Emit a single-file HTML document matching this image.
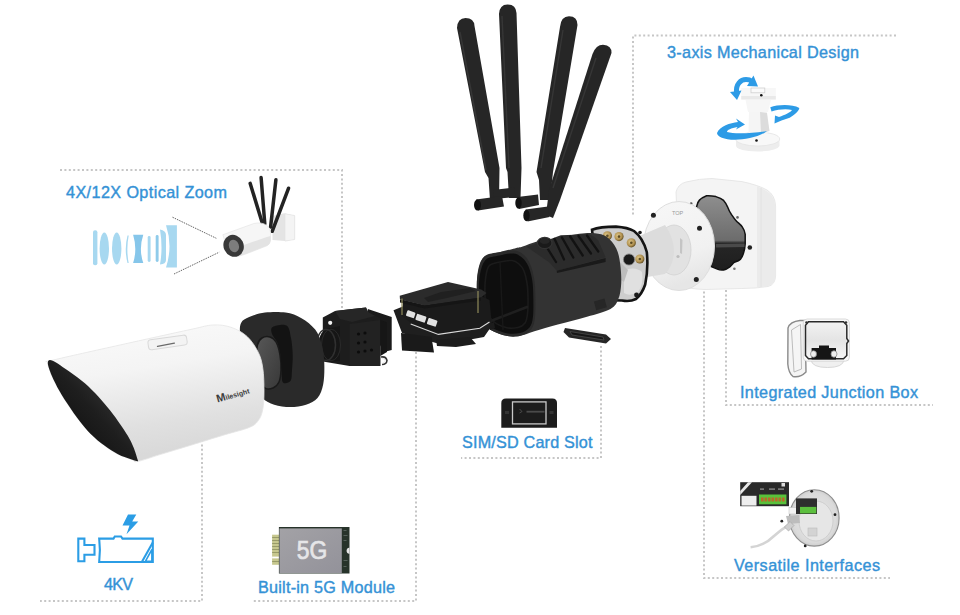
<!DOCTYPE html>
<html><head><meta charset="utf-8"><title>Camera exploded view</title>
<style>
html,body{margin:0;padding:0;background:#fff;}
body{width:960px;height:615px;overflow:hidden;}
svg{display:block;}
.lbl{font-family:"Liberation Sans",sans-serif;font-size:16.2px;fill:#3592d6;stroke:#3592d6;stroke-width:0.4px;}
.dot{fill:none;stroke:#c6c6c6;stroke-width:2;stroke-dasharray:2 2.4;}
</style></head>
<body>
<svg width="960" height="615" viewBox="0 0 960 615">
<rect width="960" height="615" fill="#fff"/>

<g class="dots">
<path class="dot" d="M60 170H342V308"/>
<path class="dot" d="M202 440V601H40"/>
<path class="dot" d="M416 352V601H253"/>
<path class="dot" d="M601 346V458H461"/>
<path class="dot" d="M896 35.6H633V215"/>
<path class="dot" d="M726 290V405H933"/>
<path class="dot" d="M704 287V578H890"/>
</g>
<text class="lbl" x="667" y="58" textLength="192" lengthAdjust="spacing">3-axis Mechanical Design</text>
<text class="lbl" x="66" y="198.3" textLength="161" lengthAdjust="spacing">4X/12X Optical Zoom</text>
<text class="lbl" x="740" y="397.5" textLength="178" lengthAdjust="spacing">Integrated Junction Box</text>
<text class="lbl" x="462" y="447.7" textLength="130.5" lengthAdjust="spacing">SIM/SD Card Slot</text>
<text class="lbl" x="734" y="571.2" textLength="146" lengthAdjust="spacing">Versatile Interfaces</text>
<text class="lbl" x="258" y="592.5" textLength="137" lengthAdjust="spacing">Built-in 5G Module</text>
<text class="lbl" x="104" y="589.8" textLength="29" lengthAdjust="spacing">4KV</text>

<g id="antennas" fill="#262626">
<path d="M457,28 Q457.5,18 465.5,18 Q474,18 474.5,26 L499.5,168 L499,200 L490,200 L488.5,178 L485,172 Z"/>
<path d="M499,14 Q499.5,4.5 507.5,4.5 Q516,4.5 516.5,13 L521.5,168 L520.5,198 L509,198 L507.5,172 L506,168 Z"/>
<path d="M560,27 Q561,16.3 569,16.3 Q577.5,16.5 577.5,25 L553,172 L550,200 L540,200 L539,180 L536.5,172 Z"/>
<path d="M592.5,54 Q596,44.7 603,44.7 Q612,45.5 611.5,53 L560,200 L553,218 L546,215 L549,190 Z"/>
<path d="M493,190 L514,187.5 L515.5,197 L494,199 Z"/>
<path d="M476,199.5 L502,196 L504,206.5 L478,210.5 Z"/>
<path d="M517.5,197 L538,194.5 L539,205 L519,209 Z"/>
<path d="M525.5,209.5 L548,206.5 L549.5,217 L527.5,221.5 Z"/>
<g stroke="#363636" stroke-width="1.4" fill="none">
<path d="M460,32 L486,170"/><path d="M502,16 L509,168"/><path d="M563,30 L541,168"/><path d="M596,58 L553,188"/>
</g>
<ellipse cx="477.5" cy="205" rx="3.5" ry="5.6" fill="#111"/>
<ellipse cx="518.5" cy="203" rx="3.2" ry="5.8" fill="#111"/>
<ellipse cx="526.5" cy="215.5" rx="3.2" ry="5.8" fill="#111"/>
</g>
<g id="jbox">
<defs><linearGradient id="jbin" gradientUnits="userSpaceOnUse" x1="0" y1="196" x2="0" y2="270"><stop offset="0" stop-color="#8e8e8e"/><stop offset="0.6" stop-color="#6c6c6c"/><stop offset="0.64" stop-color="#262626"/><stop offset="1" stop-color="#1e1e1e"/></linearGradient></defs>
<path d="M676,192 Q678,184 686,182 Q700,178.5 712,178.5 L742,181.6 Q758,185 767,190 Q775,195 775.6,206 L775.6,276 Q775,285 768,286.5 Q755,288.5 741.8,288.5 L705,289.5 Q690,289 680,286 Z" fill="#f4f4f4" stroke="#e2e2e2" stroke-width="0.8"/>
<path d="M757,186.5 Q768,190 772,196 Q775.6,202 775.6,210 L775.6,276 Q775,284 768,286 L757,287.5 Z" fill="#ebebeb"/>
<path d="M761,188 L761,287" stroke="#e0e0e0" stroke-width="0.8"/>
<path d="M696.6,206.6 C697.5,201 700,198.5 706.6,195.8 C710,195.5 713,196 715.9,196.6 C719,197.5 721.5,198.5 723.6,200.4 C725.5,202.5 726.5,204.5 727.4,206.6 C728.5,209.5 729.5,212 731.3,214.3 C733,216.8 734.2,218.8 735.9,220.5 C738,222.8 740.5,224.5 742.1,226.7 C744,229.5 745,232 745.2,234.4 L745.2,243.6 C745,247 744.5,250 743.6,252.9 C742.8,255.5 742,257.5 740.6,259.1 C738.5,261 736.5,261.5 734.4,262.2 C732.5,263.5 731.5,265.5 729.8,266.8 C727.5,268.5 725.5,269.5 723.6,269.9 C721,270.2 719,269.8 717.4,269.1 L700,262 Z" fill="url(#jbin)" stroke="#121212" stroke-width="1.5"/>
<path d="M716,244 L744.5,243.6 L744.5,247 L716,247.5 Z" fill="#4a4a4a"/>
<circle cx="737.5" cy="217.4" r="1.3" fill="#666"/>
<circle cx="734.4" cy="268.8" r="1.3" fill="#777"/>
<circle cx="749.8" cy="247.5" r="2.3" fill="#222"/>
<circle cx="691.2" cy="203.5" r="1.3" fill="#555"/>
</g>
<g id="flange">
<defs><linearGradient id="flg" x1="0" y1="0" x2="0.3" y2="1"><stop offset="0" stop-color="#f7f7f7"/><stop offset="0.7" stop-color="#f1f1f1"/><stop offset="1" stop-color="#e6e6e6"/></linearGradient></defs>
<ellipse cx="679" cy="246" rx="35.5" ry="44.5" fill="url(#flg)" stroke="#dedede" stroke-width="1"/>
<ellipse cx="674" cy="250" rx="17" ry="25" fill="#e2e2e2" stroke="#d2d2d2" stroke-width="0.8"/>
<path d="M630,240 L665,225 Q674,238 674,252 Q673,266 665,274 L630,280 Z" fill="#dcdcdc"/>
<path d="M680,238 L682.5,240 L682,254 L680,253 Z" fill="#c4c4c4"/>
<circle cx="678" cy="256.5" r="1.6" fill="#bdbdbd"/>
<text x="672" y="215.3" font-family="Liberation Sans,sans-serif" font-size="5.5" fill="#9a9a9a">TOP</text>
<circle cx="653.4" cy="215.3" r="2.5" fill="#222"/>
<circle cx="699.5" cy="228.3" r="2.5" fill="#222"/>
<circle cx="696.3" cy="279.5" r="2.5" fill="#222"/>
</g>
<defs><radialGradient id="gold" cx="0.4" cy="0.4" r="0.6"><stop offset="0" stop-color="#e0c98a"/><stop offset="0.7" stop-color="#b09050"/><stop offset="1" stop-color="#6a5528"/></radialGradient></defs>
<g id="backplate">
<path d="M592,229.7 Q600,226.6 616,226.6 Q628,227.5 634,231 Q643,238 646.8,252 Q648.5,268 645.2,284.5 Q642,294 636,299 Q630,302 622,300.5 L600,300 Z" fill="#cdcdcd" stroke="#141414" stroke-width="2.6"/>
<path d="M624,270 Q636,266 642,272 Q644,284 638,292 Q630,297 624,293 Z" fill="#e0e0e0"/>
<path d="M620,262 L628,270 L624,282 L618,278 Z" fill="#bdbdbd"/>
<circle cx="607.4" cy="235.8" r="4.6" fill="url(#gold)"/>
<circle cx="619" cy="236.6" r="4.6" fill="url(#gold)"/>
<circle cx="631.3" cy="242.8" r="4.6" fill="url(#gold)"/>
<circle cx="639.8" cy="259" r="4.6" fill="url(#gold)"/>
<g fill="#5a4a25"><circle cx="607.4" cy="235.8" r="1.3"/><circle cx="619" cy="236.6" r="1.3"/><circle cx="631.3" cy="242.8" r="1.3"/><circle cx="639.8" cy="259" r="1.3"/></g>
<circle cx="629" cy="259.5" r="5.6" fill="#1a1a1a" stroke="#888" stroke-width="0.8"/>
<circle cx="636.5" cy="295" r="2.4" fill="#1a1a1a"/>
<circle cx="640" cy="232.5" r="1.8" fill="#1a1a1a"/>
</g>
<g id="cylinder">
<path d="M483.7,257.2 C487.3,253.9 494.1,253.8 499.3,252.3 C504.5,250.8 511.0,249.4 514.9,248.4 C518.8,247.4 519.0,247.7 522.7,246.5 C526.4,245.3 531.8,242.8 537.0,241.5 C542.2,240.2 546.9,240.0 553.9,238.7 C560.9,237.4 572.5,234.7 579.3,233.8 C586.1,232.9 590.3,232.8 594.9,233.3 C599.5,233.8 603.0,234.2 606.6,236.7 C610.2,239.2 614.0,243.8 616.3,248.4 C618.6,253.0 619.4,258.1 620.2,264.0 C621.0,269.9 621.5,277.6 621.2,283.5 C620.9,289.4 620.1,294.9 618.3,299.1 C616.5,303.3 615.7,306.0 610.5,308.9 C605.3,311.8 595.8,314.1 587.0,316.7 C578.2,319.3 566.6,322.1 557.8,324.5 C549.0,326.9 540.9,329.4 534.4,331.3 C527.9,333.2 523.7,335.5 518.8,336.2 C513.9,336.9 510.3,336.9 505.0,335.5 C499.7,334.1 491.3,331.1 487.0,327.5 C482.7,323.9 480.7,319.9 479.0,314.0 C477.3,308.1 477.2,299.0 477.0,292.0 C476.8,285.0 476.7,277.8 477.8,272.0 C478.9,266.2 480.1,260.5 483.7,257.2 Z" fill="#333333"/>
<path d="M483.7,257.2 C487.3,253.2 494.1,253.4 499.3,252.3 C504.5,251.2 510.7,250.0 514.9,250.5 C519.1,251.0 521.9,253.1 524.5,255.5 C527.1,257.9 528.9,261.1 530.5,265.0 C532.1,268.9 533.4,273.8 534.2,279.0 C535.0,284.2 535.3,289.7 535.4,296.0 C535.5,302.3 535.6,311.5 535.0,317.0 C534.4,322.5 533.8,325.9 531.5,329.0 C529.2,332.1 525.4,334.4 521.0,335.5 C516.6,336.6 510.5,336.8 505.0,335.5 C499.5,334.2 492.2,331.4 488.0,328.0 C483.8,324.6 481.3,320.3 479.5,315.0 C477.7,309.7 477.3,302.5 477.0,296.0 C476.7,289.5 476.4,282.5 477.5,276.0 C478.6,269.5 480.1,261.1 483.7,257.2 Z" fill="#2a2a2a"/>
<path d="M485.5,260.0 C488.8,256.6 494.8,256.6 499.5,255.5 C504.2,254.4 509.7,253.1 513.5,253.5 C517.3,253.9 520.0,255.8 522.5,258.0 C525.0,260.2 526.9,262.8 528.5,266.5 C530.1,270.2 531.4,275.0 532.2,280.0 C533.0,285.0 533.2,290.4 533.3,296.5 C533.4,302.6 533.6,311.3 533.0,316.5 C532.4,321.7 531.7,324.8 529.5,327.5 C527.3,330.2 524.0,332.1 520.0,333.0 C516.0,333.9 510.6,334.2 505.5,333.0 C500.4,331.8 493.5,329.2 489.5,326.0 C485.5,322.8 483.2,319.0 481.5,314.0 C479.8,309.0 479.5,302.3 479.2,296.0 C478.9,289.7 478.6,282.0 479.7,276.0 C480.8,270.0 482.2,263.4 485.5,260.0 Z" fill="#0e0e0e"/>
<path d="M489.0,266.0 C491.4,263.2 496.2,262.9 500.0,262.0 C503.8,261.1 508.8,260.2 512.0,260.5 C515.2,260.8 517.0,262.2 519.0,264.0 C521.0,265.8 522.7,267.8 524.0,271.0 C525.3,274.2 526.3,278.7 527.0,283.0 C527.7,287.3 527.9,291.8 528.0,297.0 C528.1,302.2 528.0,309.7 527.5,314.0 C527.0,318.3 526.6,320.8 525.0,323.0 C523.4,325.2 521.2,326.8 518.0,327.5 C514.8,328.2 510.2,328.6 506.0,327.5 C501.8,326.4 496.2,323.8 493.0,321.0 C489.8,318.2 487.8,315.2 486.5,311.0 C485.2,306.8 485.2,301.3 485.0,296.0 C484.8,290.7 484.8,284.0 485.5,279.0 C486.2,274.0 486.6,268.8 489.0,266.0 Z" fill="none" stroke="#1b1b1b" stroke-width="1.6"/>
<path d="M488,322 L527,307" stroke="#1f1f1f" stroke-width="2.6" stroke-linecap="round"/>
<path d="M500,262 L503,330" stroke="#181818" stroke-width="1.4"/>
<path d="M526.5,246.8 L548,240 L560.8,235.3 L588,234.2 Q595,236 598.3,240.5 L605.6,257.2 L556.7,270.7 L549.4,262.4 Z" fill="#2b2b2b"/>
<path d="M556.7,270.7 L605.6,258 L605.6,262 L557,273 Z" fill="#1a1a1a"/>
<g stroke="#121212" stroke-width="2.3" stroke-linecap="round"><path d="M546,246 L556,262"/><path d="M554.6,239 L564,259.5"/><path d="M562,237.5 L573.3,257.5"/><path d="M570.2,236.5 L582.7,255.5"/><path d="M578.5,236 L591,253.5"/><path d="M587,235.5 L598.3,251.5"/></g>
<ellipse cx="544.7" cy="243" rx="7.3" ry="5.6" fill="#1a1a1a" stroke="#333" stroke-width="1.2"/><ellipse cx="544.7" cy="241" rx="5" ry="3" fill="#262626"/>
<rect x="595" y="300" width="11" height="9" fill="#262626" transform="rotate(-15 600 305)"/>
<path d="M565,328 L606,334.5 L611,339 L606,343.5 L569,337.5 L563.5,332 Z" fill="#262626"/>
<path d="M570,331.5 L603,337 L604,340 L572,335 Z" fill="#161616" stroke="#4a4a4a" stroke-width="0.8"/>
</g>
<g id="pcb">
<path d="M393.5,310.2 L404,306 L412,322 L438.4,332 L479.8,326 L489.5,320 L493,324 L484,337 L462,341 L436,343 L402,333 Z" fill="#1f1f1f"/>
<path d="M401,333 L431.5,337 L434,352.4 L402,350.5 Z" fill="#1a1a1a"/>
<path d="M436,340 L470,337 L476,344 L456,347 L437,346 Z" fill="#1c1c1c"/>
<path d="M403,300 L424.5,305 L481,296 L489.5,300 L491.5,321 L480,328 L438.4,333 L411,323 L402,316 Z" fill="#1b1b1b"/>
<path d="M399.7,295.7 L448,282 L481.2,289.5 L486.5,293 L481,297.5 L424.5,305.5 L400,299.5 Z" fill="#2b2b2b"/>
<path d="M400,299.5 L424.5,305.5 L481,297.5 L481,300.5 L424.5,308.5 L400,302.5 Z" fill="#151515"/>
<path d="M424,298 L441,292 L470,288 L476,291 L447,298 L428,302 Z" fill="#202020"/>
<rect x="406.5" y="311" width="8.5" height="6" rx="1" fill="#e2e2e2" transform="rotate(18 410 314)"/>
<rect x="416" y="315" width="10" height="6.5" rx="1" fill="#e2e2e2" transform="rotate(18 421 318)"/>
<rect x="427.5" y="319" width="9.5" height="6.5" rx="1" fill="#e2e2e2" transform="rotate(18 432 322)"/>
<path d="M402,298.5 V315 M478,291 V313" stroke="#8f8a5a" stroke-width="1.2"/>
<path d="M410.7,324 L438.4,334.4 L479.8,328.2 L489.5,322" fill="none" stroke="#dadada" stroke-width="1.1"/>
<path d="M489,324 L494,322 L495,328 L490,330 Z" fill="#1c1c1c"/>
</g>
<g id="lensmod">
<path d="M367.8,309.1 L391.7,317 L391.7,350 L384,352 L380,345 L367.8,340 Z" fill="#1a1a1a"/>
<path d="M322.8,317.5 L335,311 L352,309 L366,307.5 L368,312 L380,318 L380.3,366 L349.6,366 L322.8,361.4 Z" fill="#1d1d1d"/>
<path d="M335,311 L352,309 L366,307.5 L368,312 L375,316 L352,322 L340,319 Z" fill="#262626"/>
<path d="M349.6,323.9 L380.3,320 L380.3,366 L349.6,366 Z" fill="#222"/>
<path d="M380.3,320 L387,322.5 L387,352 L380.3,356 Z" fill="#161616"/>
<g fill="#0c0c0c"><circle cx="358.5" cy="334" r="1.6"/><circle cx="365" cy="333" r="1.6"/><circle cx="358.5" cy="343" r="1.6"/><circle cx="365" cy="342" r="1.6"/><circle cx="358.5" cy="352" r="1.6"/><circle cx="365" cy="351" r="1.6"/><circle cx="371.5" cy="350" r="1.6"/></g>
<circle cx="330.2" cy="322.8" r="2.1" fill="#f2f2f2"/>
<path d="M381,357 Q386,356 387,360.5 Q386.5,364.5 382,364.5" fill="none" stroke="#333" stroke-width="1.6"/>
<path d="M381.5,358.5 Q384.8,358 385.3,360.8 Q385,363 382.5,363" fill="none" stroke="#e8e8e8" stroke-width="0.9"/>
<ellipse cx="329" cy="345" rx="10.5" ry="16.5" fill="#161616"/>
<path d="M329,328.5 L340,326 L340,361 L329,361.5 Z" fill="#161616"/>
<ellipse cx="326" cy="345" rx="9.5" ry="15.5" fill="none" stroke="#303030" stroke-width="1.5"/>
<ellipse cx="331" cy="345" rx="9.5" ry="15.8" fill="none" stroke="#2a2a2a" stroke-width="1"/>
</g>
<defs><linearGradient id="glg" x1="0" y1="0" x2="1" y2="1"><stop offset="0" stop-color="#575757"/><stop offset="1" stop-color="#383838"/></linearGradient></defs>
<g id="ring">
<path d="M241.2,322.8 C242.7,319.8 245.2,318.7 249.2,317.0 C253.2,315.3 258.9,313.2 265.0,312.5 C271.1,311.8 279.5,311.6 285.6,312.5 C291.7,313.4 296.6,315.3 301.5,318.2 C306.4,321.1 311.8,325.1 315.2,329.6 C318.6,334.2 320.5,339.8 322.0,345.5 C323.5,351.2 324.1,357.2 324.3,363.7 C324.5,370.1 324.3,378.5 323.2,384.2 C322.1,389.9 320.4,394.5 317.5,397.9 C314.6,401.3 310.6,403.2 306.0,404.7 C301.4,406.2 295.5,407.0 290.2,407.0 C284.9,407.0 278.9,406.2 274.2,404.7 C269.5,403.2 266.0,401.3 262.0,398.0 C258.0,394.7 253.2,391.3 250.0,385.0 C246.8,378.7 244.7,368.3 243.0,360.0 C241.3,351.7 240.3,341.2 240.0,335.0 C239.7,328.8 239.7,325.8 241.2,322.8 Z" fill="#2a2a2a"/>
<path d="M257.4,345.0 C258.2,341.3 259.9,339.3 262.0,338.0 C264.1,336.7 267.7,336.3 270.0,337.0 C272.3,337.7 274.3,339.0 276.0,342.0 C277.7,345.0 279.2,350.3 280.0,355.0 C280.8,359.7 281.2,365.5 281.0,370.0 C280.8,374.5 280.3,379.0 279.0,382.0 C277.7,385.0 275.3,387.0 273.0,388.0 C270.7,389.0 267.3,389.7 265.0,388.0 C262.7,386.3 260.3,382.7 259.0,378.0 C257.7,373.3 257.3,365.5 257.0,360.0 C256.7,354.5 256.6,348.7 257.4,345.0 Z" fill="url(#glg)" stroke="#1a1a1a" stroke-width="1.5"/>
<path d="M272.7,327.0 C275.1,325.6 283.4,323.7 286.5,325.5 C289.6,327.3 290.0,333.1 291.0,338.0 C292.0,342.9 292.5,349.3 292.7,354.6 C292.9,359.9 292.4,365.6 292.0,370.0 C291.6,374.4 292.1,378.7 290.6,380.8 C289.1,382.9 284.5,384.3 283.0,382.5 C281.5,380.7 281.9,374.6 281.5,370.0 C281.1,365.4 281.2,359.7 280.5,355.0 C279.8,350.3 278.4,345.5 277.0,342.0 C275.6,338.5 272.7,336.5 272.0,334.0 C271.3,331.5 270.3,328.4 272.7,327.0 Z" fill="#131313"/>
</g>
<defs><linearGradient id="bodyg" x1="0" y1="0" x2="0.25" y2="1">
<stop offset="0" stop-color="#fbfbfb"/><stop offset="0.4" stop-color="#f4f4f4"/><stop offset="0.8" stop-color="#e0e0e0"/><stop offset="1" stop-color="#d9d9d9"/></linearGradient>
<linearGradient id="crg" x1="0.2" y1="0.8" x2="0.75" y2="0.25"><stop offset="0" stop-color="#101010"/><stop offset="0.55" stop-color="#1e1e1e"/><stop offset="1" stop-color="#343434"/></linearGradient></defs>
<g id="body">
<path d="M47.8,362.7 C48.0,360.2 40.7,363.1 52.7,360.2 C64.7,357.2 97.1,350.1 120.0,345.0 C142.9,339.9 174.5,332.9 190.0,329.6 C205.5,326.3 206.0,325.4 212.8,325.0 C219.6,324.6 225.3,325.4 231.0,327.3 C236.7,329.2 242.4,332.2 247.0,336.4 C251.6,340.6 255.7,347.1 258.3,352.4 C260.9,357.7 261.9,361.9 262.8,368.3 C263.8,374.7 264.0,384.2 264.0,391.0 C264.0,397.8 263.8,404.4 262.8,409.3 C261.9,414.2 260.6,417.6 258.3,420.6 C256.0,423.6 254.9,425.1 249.2,427.5 C243.5,429.9 233.9,432.0 224.0,435.0 C214.1,438.0 200.7,442.2 190.0,445.5 C179.3,448.8 168.8,451.9 160.0,454.6 C151.2,457.3 142.2,460.7 137.5,461.5 C132.8,462.3 134.9,460.7 131.7,459.5 C128.4,458.3 122.5,456.6 118.0,454.3 C113.5,452.0 109.0,449.0 104.4,445.6 C99.9,442.2 94.9,438.1 90.7,433.9 C86.5,429.7 82.6,424.8 79.0,420.2 C75.4,415.6 72.5,411.5 69.3,406.6 C66.0,401.7 62.4,396.2 59.5,391.0 C56.6,385.8 53.7,380.1 51.7,375.4 C49.8,370.7 47.6,365.2 47.8,362.7 Z" fill="url(#bodyg)" stroke="#e6e6e6" stroke-width="0.8"/>
<path d="M47.8,362.7 C47.6,365.1 49.8,370.7 51.7,375.4 C53.7,380.1 56.6,385.8 59.5,391.0 C62.4,396.2 66.0,401.7 69.3,406.6 C72.5,411.5 75.4,415.6 79.0,420.2 C82.6,424.8 86.5,429.7 90.7,433.9 C94.9,438.1 99.9,442.2 104.4,445.6 C109.0,449.0 113.5,452.0 118.0,454.3 C122.5,456.6 128.4,458.4 131.7,459.5 C134.9,460.6 136.5,461.2 137.5,461.2 C138.5,461.1 138.2,461.5 137.5,459.2 C136.8,456.9 135.2,451.4 133.6,447.5 C132.0,443.6 130.1,439.7 127.8,435.8 C125.5,431.9 122.9,428.2 120.0,424.0 C117.1,419.8 113.8,415.0 110.2,410.5 C106.6,406.0 102.7,401.4 98.5,396.8 C94.3,392.2 89.8,387.4 84.9,383.2 C80.0,379.0 74.7,375.2 69.3,371.5 C63.9,367.8 56.3,362.2 52.7,360.7 C49.1,359.2 48.0,360.2 47.8,362.7 Z" fill="url(#crg)"/>
<rect x="148" y="337.5" width="39" height="10" rx="3" fill="#f3f3f3" stroke="#d9d9d9" stroke-width="1" transform="rotate(-8 167 342)"/>
<path d="M157.5,346.3 L174.4,343.1" stroke="#6a6a6a" stroke-width="1.3" stroke-linecap="round"/>
<text x="217.5" y="402.5" font-family="Liberation Sans,sans-serif" font-weight="bold" fill="#3c3c3c" transform="rotate(-16 217.5 402.5)"><tspan font-size="11">M</tspan><tspan font-size="7">ilesight</tspan></text>
</g>
<g id="axis3">
<path d="M736,140 L736,146 Q738,151 757.5,151.5 Q777,151 779.5,146 L779.5,140 Z" fill="#ededed"/>
<ellipse cx="757.7" cy="139" rx="22" ry="7" fill="#f8f8f8" stroke="#e3e3e3" stroke-width="0.8"/>
<path d="M749,111 L767,111 L768,133 Q758,136 748.5,133 Z" fill="#f5f5f5"/>
<path d="M760,112 L767,113 L769.5,131 L761,133 Z" fill="#dcdcdc"/>
<path d="M745.5,99.7 L771,99.7 L768,112 L748,112 Z" fill="#f6f6f6"/>
<path d="M741.3,88 L775.8,88 L775.8,99.5 L741.3,99.5 Z" fill="#f7f7f7"/>
<path d="M741.3,96 L775.8,96 L775.8,99.5 L741.3,99.5 Z" fill="#e9e9e9"/>
<rect x="751" y="88" width="13.8" height="4.8" fill="#fafafa" stroke="#cfcfcf" stroke-width="0.8"/>
<circle cx="761.3" cy="95.2" r="1.3" fill="#111"/>
<circle cx="756.5" cy="140.5" r="1.3" fill="#111"/>
<path d="M736.6,93 C735.5,84 741,79.6 746,79.6 C749,79.6 750.5,80.3 752,81.5" fill="none" stroke="#2d9be6" stroke-width="5"/>
<path d="M753.5,75.5 L758,86.5 L747,86 Z" fill="#2d9be6"/>
<path d="M730,92 L741.5,90.5 L737,100 Z" fill="#2d9be6"/>
<path d="M717,133 C720,126 730,123 738,122 L736,118.5 L745,124.5 L736,129.5 L737.5,127 C731,128 727,130 727,132 C735,134.5 755,133 767,131 C760,137 745,139.8 735,139.8 C724,139.8 717,136.5 717,133 Z" fill="#2d9be6"/>
<path d="M770.3,107.3 C778,104.5 792,104 799.3,108 C799,111 795,114.5 789.7,117.7 L781.5,120.5 L774.5,123.5 L775,115.5 L779,117 C785,115 791,112 792,110 C786,108.5 778,109.5 771.5,111.5 Z" fill="#2d9be6"/>
</g>
<g id="kv" fill="none" stroke="#2b9de5" stroke-width="2.1" stroke-linejoin="miter">
<path d="M78.3,538.6 H84.4 V545 H94.5 V554.8 H84.4 V561.2 H78.3 Z"/>
<path d="M99.2,538.6 H113.5 L114.8,536.5 H121 L122.5,538.6 H152.8 V562 H99.2 Q100.6,550 99.2,538.6 Z"/>
<path d="M141.8,562 L152.8,542.5"/>
<path d="M145.5,561.2 L151.9,561.2 L151.9,549.5 Z" stroke-width="1.6"/>
<path d="M128,514.5 L136.3,514.5 L132.2,521.5 L138.3,521.5 L126.5,534.3 L129.5,525.5 L122.5,525.5 Z" fill="#2b9de5" stroke="none"/>
</g>
<defs><linearGradient id="g5" x1="0" y1="0" x2="1" y2="1"><stop offset="0" stop-color="#a3a2a6"/><stop offset="1" stop-color="#93929a"/></linearGradient></defs>
<g id="m5g">
<rect x="272.1" y="534.7" width="7" height="30.1" fill="#c6c78e"/>
<rect x="272.1" y="556.6" width="7" height="1.8" fill="#fff"/>
<g fill="#8c9060"><rect x="272.1" y="537" width="7" height="0.8"/><rect x="272.1" y="540" width="7" height="0.8"/><rect x="272.1" y="543" width="7" height="0.8"/><rect x="272.1" y="546" width="7" height="0.8"/><rect x="272.1" y="549" width="7" height="0.8"/><rect x="272.1" y="552" width="7" height="0.8"/><rect x="272.1" y="561" width="7" height="0.8"/></g>
<rect x="278.9" y="527" width="70.6" height="46.5" fill="#27332a"/>
<rect x="279.4" y="528.4" width="62.4" height="44.6" fill="url(#g5)"/>
<path d="M349.5,547.5 A3.5,3.3 0 0 0 349.5,554 Z" fill="#e8e8e8"/>
<g fill="#55605a"><rect x="343.5" y="530" width="3" height="1"/><rect x="343.5" y="535" width="4" height="1"/><rect x="343.5" y="540" width="3" height="1"/><rect x="343.5" y="560" width="4" height="1"/><rect x="343.5" y="566" width="3" height="1"/></g>
<text x="296.7" y="559.3" font-family="Liberation Sans,sans-serif" font-size="25.5" fill="#e6e6e8" stroke="#e6e6e8" stroke-width="0.7" textLength="30.5" lengthAdjust="spacingAndGlyphs">5G</text>
</g>
<g id="sim">
<path d="M501.3,427.8 V403 Q501.3,398.4 506,398.4 H552.4 Q557,398.4 557,403 V427.8 Z" fill="#1c1c1c"/>
<rect x="512.5" y="401.9" width="33.5" height="22" fill="none" stroke="#c9c9c9" stroke-width="1.3"/>
<rect x="526.5" y="410.8" width="18" height="1.8" fill="#4a4a4a"/>
<path d="M519.5,409 L522,411.5 L519.5,413" fill="none" stroke="#555" stroke-width="0.8"/>
<rect x="505" y="411" width="4" height="3" fill="#333"/><rect x="549.5" y="411" width="4" height="3" fill="#333"/>
</g>
<defs><linearGradient id="jbg" x1="0" y1="0" x2="0" y2="1"><stop offset="0" stop-color="#f2f2f2"/><stop offset="0.5" stop-color="#e4e4e4"/><stop offset="1" stop-color="#f5f5f5"/></linearGradient></defs>
<g id="jbicon">
<path d="M811,360 L844,360 Q843,367.5 827.5,367.5 Q812,367.5 811,360 Z" fill="#f0f0f0" stroke="#cfcfcf" stroke-width="0.8"/>
<path d="M788,328 Q790,321.5 800,320.5 L805,320.5 L806,372 Q800,378 793,376.5 Q788.5,373 787.8,364 Z" fill="#f5f5f5" stroke="#8a8a8a" stroke-width="1.4"/>
<path d="M791.5,330 L800.5,324.5 L801.5,369 L794,372 Z" fill="none" stroke="#b5b5b5" stroke-width="0.9"/>
<rect x="803.2" y="319" width="46.2" height="42.2" rx="4" fill="#f8f8f8" stroke="#d2d2d2" stroke-width="0.8"/>
<path d="M808.5,321.8 L843.5,321.8 L846.8,325.3 L846.8,338.5 L848.5,341 L846.8,343.5 L846.8,355.5 L843.5,358.8 L808.5,358.8 L805.5,355.5 L805.5,325.3 Z" fill="url(#jbg)" stroke="#2a2a2a" stroke-width="1.5"/>
<circle cx="806.5" cy="322.5" r="1.3" fill="#333"/><circle cx="846" cy="322.5" r="1.3" fill="#333"/>
<path d="M811.6,348 L819,348 L819,345.4 L829,345.4 L829,348 L836,348 L836,359.5 L811.6,359.5 Z" fill="#151515"/>
<ellipse cx="813.5" cy="354" rx="3" ry="3.3" fill="#eeeeee" stroke="#8a8a8a" stroke-width="0.8"/>
<ellipse cx="834" cy="354" rx="3" ry="3.3" fill="#eeeeee" stroke="#8a8a8a" stroke-width="0.8"/>
</g>
<defs><radialGradient id="ifg" cx="0.5" cy="0.5" r="0.55"><stop offset="0" stop-color="#e9e9e9"/><stop offset="0.8" stop-color="#dadada"/><stop offset="1" stop-color="#c4c4c4"/></radialGradient></defs>
<g id="ificon">
<path d="M750.6,547.2 Q764,546 774,536 Q782,529 789.6,524.4" fill="none" stroke="#d4d4d4" stroke-width="2.6"/>
<ellipse cx="814.3" cy="517.9" rx="24.8" ry="28.2" fill="url(#ifg)" stroke="#8e8e8e" stroke-width="1.1"/>
<ellipse cx="816" cy="521" rx="17" ry="20" fill="#e6e6e6" stroke="#c9c9c9" stroke-width="0.8"/>
<rect x="808" y="528" width="9" height="8" fill="#d3d3d3" stroke="#bdbdbd" stroke-width="0.6"/>
<circle cx="811.7" cy="491.3" r="1.4" fill="#222"/><circle cx="835" cy="514.7" r="1.4" fill="#222"/>
<circle cx="805.2" cy="545.9" r="1.4" fill="#222"/><circle cx="781.8" cy="521.2" r="1.4" fill="#222"/>
<path d="M786,516 L799,515 L800,523 L788,524 Z" fill="#bdbdbd"/>
<path d="M784.4,527 L790,521.5 L794,525.5 L788.5,531 Z" fill="#cfcfcf" stroke="#a0a0a0" stroke-width="0.6"/>
<rect x="789" y="507.5" width="9.7" height="6.5" fill="#f4f4f4" stroke="#bbb" stroke-width="0.5"/>
<rect x="796" y="498.4" width="21" height="15.6" fill="#2e2e2e"/>
<rect x="800" y="506.9" width="16.3" height="6.5" fill="#5cbf3e"/>
<rect x="740.2" y="482.2" width="48.8" height="24" fill="#2a2a2a"/>
<path d="M740.2,491 L748,482.2 L752,482.2 L740.2,495 Z" fill="#e8e8e8"/>
<rect x="741.5" y="495.8" width="15" height="9.8" fill="#eeeeee"/>
<rect x="759" y="494.5" width="27.4" height="9.8" fill="#58c23a"/>
<g fill="#b86a2a"><rect x="761" y="497.5" width="2.6" height="4"/><rect x="764.5" y="497.5" width="2.6" height="4"/><rect x="768" y="497.5" width="2.6" height="4"/><rect x="771.5" y="497.5" width="2.6" height="4"/><rect x="775" y="497.5" width="2.6" height="4"/><rect x="778.5" y="497.5" width="2.6" height="4"/><rect x="782" y="497.5" width="2.6" height="4"/></g>
<rect x="781.5" y="483" width="3.5" height="3.5" fill="#ddd"/>
<g fill="#9a9a9a"><rect x="760" y="488.5" width="4" height="1.2"/><rect x="769" y="488.5" width="6" height="1.2"/><rect x="778" y="488.5" width="6" height="1.2"/></g>
</g>
<g id="optzoom">
<g fill="#a7d8f0">
<rect x="93" y="230.3" width="4.4" height="35" rx="2"/>
<ellipse cx="104.3" cy="248.5" rx="4.7" ry="16"/>
<ellipse cx="116.7" cy="248.5" rx="4.7" ry="16"/>
<path d="M127.5,235.4 Q124,249 127.5,263.1 L128.7,263.1 Q126,249 128.7,235.4 Z"/>
<path d="M133.1,234.7 H143.3 Q138.5,249 143.3,263.1 H133.1 Q137.5,249 133.1,234.7 Z" fill="#86c6ea"/>
<rect x="147.7" y="236" width="2.9" height="26" rx="1.4"/>
<rect x="155.7" y="235" width="2.9" height="27" rx="1.4" fill="#8fcbea"/>
<path d="M160,229.6 Q166,231 166,235 L166,260 Q166,264 160,264.6 Q163,248 160,229.6 Z"/>
<path d="M166,225.2 H176.9 V267.5 H166 Q173,246 166,225.2 Z"/>
</g>
<path d="M172.5,217.2 L216.3,238.3 M174,274 L219.2,252.2" stroke="#555" stroke-width="0.9" stroke-dasharray="1.5 1"/>
<path d="M272.5,216 L284,213.3 L294.7,215.5 L294.7,239.5 L285,241.1 L272.5,240 Z" fill="#e4e4e4"/>
<path d="M285,213.8 L294.7,215.5 L294.7,239.5 L285,241.1 Z" fill="#f4f4f4" stroke="#e0e0e0" stroke-width="0.6"/>
<g stroke="#232323" stroke-width="3.5" stroke-linecap="round">
<path d="M250.2,183.4 L262.2,222.8"/><path d="M261.1,177.6 L264.8,223.9"/><path d="M275.9,179.7 L270.6,227"/><path d="M288.6,188.2 L272.2,231.3"/>
</g>
<path d="M222.9,234.7 L253.9,223.5 Q262,221.8 266.9,225.4 Q270.6,228 270.6,233 L270.6,240.2 Q270,244.5 266.9,245.8 L245.6,254.1 L238.2,256.4 L228,252 Z" fill="#f6f6f6" stroke="#e0e0e0" stroke-width="0.6"/>
<path d="M238,247 L266.9,237 L270.6,236 L270.6,240.2 Q270,244.5 266.9,245.8 L245.6,254.1 L238.2,256.4 Z" fill="#e3e3e3"/>
<ellipse cx="233.6" cy="245.8" rx="10" ry="11.2" fill="#383838" transform="rotate(-25 233.6 245.8)"/>
<ellipse cx="233.9" cy="246" rx="5" ry="6.3" fill="#7d7d7d" transform="rotate(-20 233.9 246)"/>
</g>
</svg>
</body></html>
